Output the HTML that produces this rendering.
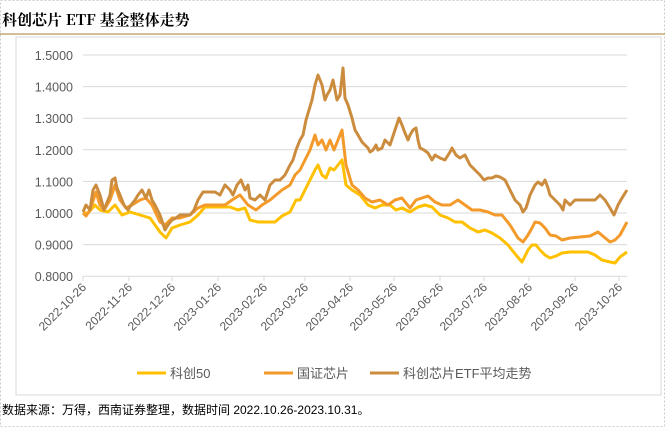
<!DOCTYPE html>
<html><head><meta charset="utf-8"><style>
body{margin:0;background:#fff;width:665px;height:427px;overflow:hidden;font-family:"Liberation Sans","Noto Sans CJK SC",sans-serif}
</style></head><body>
<svg width="665" height="427" viewBox="0 0 665 427" xmlns="http://www.w3.org/2000/svg">
<rect x="0.5" y="0.5" width="664" height="426" fill="none" stroke="#ccc" stroke-dasharray="2,2"/>
<text x="2" y="25" font-size="15" font-weight="bold" font-family="'Noto Serif CJK SC','Liberation Serif',serif" fill="#000">科创芯片 ETF 基金整体走势</text>
<line x1="0" y1="34" x2="665" y2="34" stroke="#b8975a" stroke-width="1.2"/>
<rect x="16" y="37" width="645" height="358" fill="#fff" stroke="#d9d9d9"/>
<g stroke="#d9d9d9" stroke-width="1">
<line x1="83" y1="55" x2="627" y2="55"/><line x1="83" y1="86.6" x2="627" y2="86.6"/><line x1="83" y1="118.2" x2="627" y2="118.2"/><line x1="83" y1="149.8" x2="627" y2="149.8"/><line x1="83" y1="181.4" x2="627" y2="181.4"/><line x1="83" y1="213" x2="627" y2="213"/><line x1="83" y1="244.6" x2="627" y2="244.6"/><line x1="83" y1="276.2" x2="627" y2="276.2"/>
<path d="M83 276v5M129 276v5M172 276v5M218 276v5M264 276v5M305 276v5M350 276v5M394 276v5M440 276v5M484 276v5M529 276v5M575 276v5M619 276v5"/>
</g>
<g font-size="12.5" fill="#595959" text-anchor="end">
<text x="73" y="60">1.5000</text><text x="73" y="91.6">1.4000</text><text x="73" y="123.2">1.3000</text><text x="73" y="154.8">1.2000</text><text x="73" y="186.4">1.1000</text><text x="73" y="218">1.0000</text><text x="73" y="249.6">0.9000</text><text x="73" y="281.2">0.8000</text>
</g>
<g font-size="12" fill="#595959" text-anchor="end">
<text transform="translate(87,288) rotate(-45)">2022-10-26</text>
<text transform="translate(133,288) rotate(-45)">2022-11-26</text>
<text transform="translate(176,288) rotate(-45)">2022-12-26</text>
<text transform="translate(222,288) rotate(-45)">2023-01-26</text>
<text transform="translate(268,288) rotate(-45)">2023-02-26</text>
<text transform="translate(309,288) rotate(-45)">2023-03-26</text>
<text transform="translate(354,288) rotate(-45)">2023-04-26</text>
<text transform="translate(398,288) rotate(-45)">2023-05-26</text>
<text transform="translate(444,288) rotate(-45)">2023-06-26</text>
<text transform="translate(488,288) rotate(-45)">2023-07-26</text>
<text transform="translate(533,288) rotate(-45)">2023-08-26</text>
<text transform="translate(579,288) rotate(-45)">2023-09-26</text>
<text transform="translate(623,288) rotate(-45)">2023-10-26</text>
</g>
<g fill="none" stroke-width="3" stroke-linejoin="round">
<polyline stroke="#ffc000" points="83,213 88,213 95,205 100,210 108,212 115,205 122,215 130,212 140,215 150,218 160,232 166,238 172,228 180,225 190,222 198,215 205,207 220,207 230,207 238,210 245,208 250,220 258,222 266,222 275,222 282,216 290,212 296,200 300,200 305,190 310,180 315,170 318,165 322,175 326,178 330,168 334,170 338,165 342,160 346,185 352,190 360,195 368,205 375,208 382,205 390,205 396,210 402,208 410,212 418,207 425,205 432,207 440,215 448,218 455,222 462,222 470,228 478,232 485,230 492,233 500,238 508,245 516,255 522,262 528,250 532,245 536,245 540,250 545,255 550,258 556,256 562,253 570,252 580,252 588,252 595,255 602,260 610,262 615,263 620,257 627,252"/>
<polyline stroke="#f39a2a" points="83,213 86,216 90,210 96,192 100,205 104,210 110,200 115,185 120,200 126,208 132,205 140,200 146,198 152,205 160,222 165,225 172,218 180,218 190,215 198,208 205,205 215,205 225,205 232,200 240,195 248,205 256,210 262,205 270,200 276,195 282,190 290,185 295,175 300,170 305,160 310,150 315,135 318,145 322,140 326,150 330,140 334,150 338,140 342,130 346,165 352,185 358,190 365,198 372,202 380,200 388,205 395,200 402,198 410,208 416,200 422,198 428,196 435,202 442,205 450,205 458,200 465,205 472,210 480,210 488,212 495,215 502,215 510,225 518,238 523,242 528,235 532,228 535,222 540,223 545,228 550,235 556,236 562,240 570,238 580,237 590,236 598,232 604,237 610,242 615,240 620,235 627,222"/>
<polyline stroke="#cc8c3e" points="83,212 86,205 90,210 93,190 96,185 100,195 104,210 106,205 110,195 112,180 115,178 117,188 120,195 124,205 128,210 131,205 135,200 138,195 142,190 146,198 149,190 152,200 155,205 160,215 165,230 168,225 172,220 176,218 180,215 185,215 190,215 194,210 198,200 203,192 208,192 215,192 220,195 225,185 230,190 233,195 237,185 241,180 245,190 248,185 250,198 255,200 260,195 265,200 270,185 275,180 280,180 285,175 290,165 293,160 296,150 300,140 303,135 306,120 309,110 312,100 315,85 318,75 322,85 325,100 327,95 330,90 333,80 337,100 340,95 343,68 345,98 348,105 352,118 355,130 358,135 362,142 365,145 368,148 370,152 373,150 376,145 378,150 382,148 385,140 390,145 395,130 399,118 402,125 405,133 408,140 410,135 413,130 416,128 418,140 420,148 424,150 428,153 432,160 435,155 440,158 445,160 450,152 452,148 456,155 460,158 465,155 470,165 475,170 480,175 484,180 488,178 492,178 496,176 500,177 505,180 510,190 515,200 520,205 523,212 526,208 530,195 535,185 538,182 542,185 545,180 548,188 550,195 555,200 560,205 563,210 565,200 570,205 575,200 590,200 595,200 600,195 605,200 610,208 614,215 618,205 622,198 627,190"/>
</g>
<g font-size="13" fill="#595959">
<line x1="137" y1="373" x2="166" y2="373" stroke="#ffc000" stroke-width="3"/><text x="170" y="378">科创50</text>
<line x1="264" y1="373" x2="293" y2="373" stroke="#f39a2a" stroke-width="3"/><text x="297" y="378">国证芯片</text>
<line x1="370" y1="373" x2="399" y2="373" stroke="#cc8c3e" stroke-width="3"/><text x="403" y="378">科创芯片ETF平均走势</text>
</g>
<text x="2" y="414" font-size="12" fill="#000">数据来源：万得，西南证券整理，数据时间 2022.10.26-2023.10.31。</text>
</svg>
</body></html>
